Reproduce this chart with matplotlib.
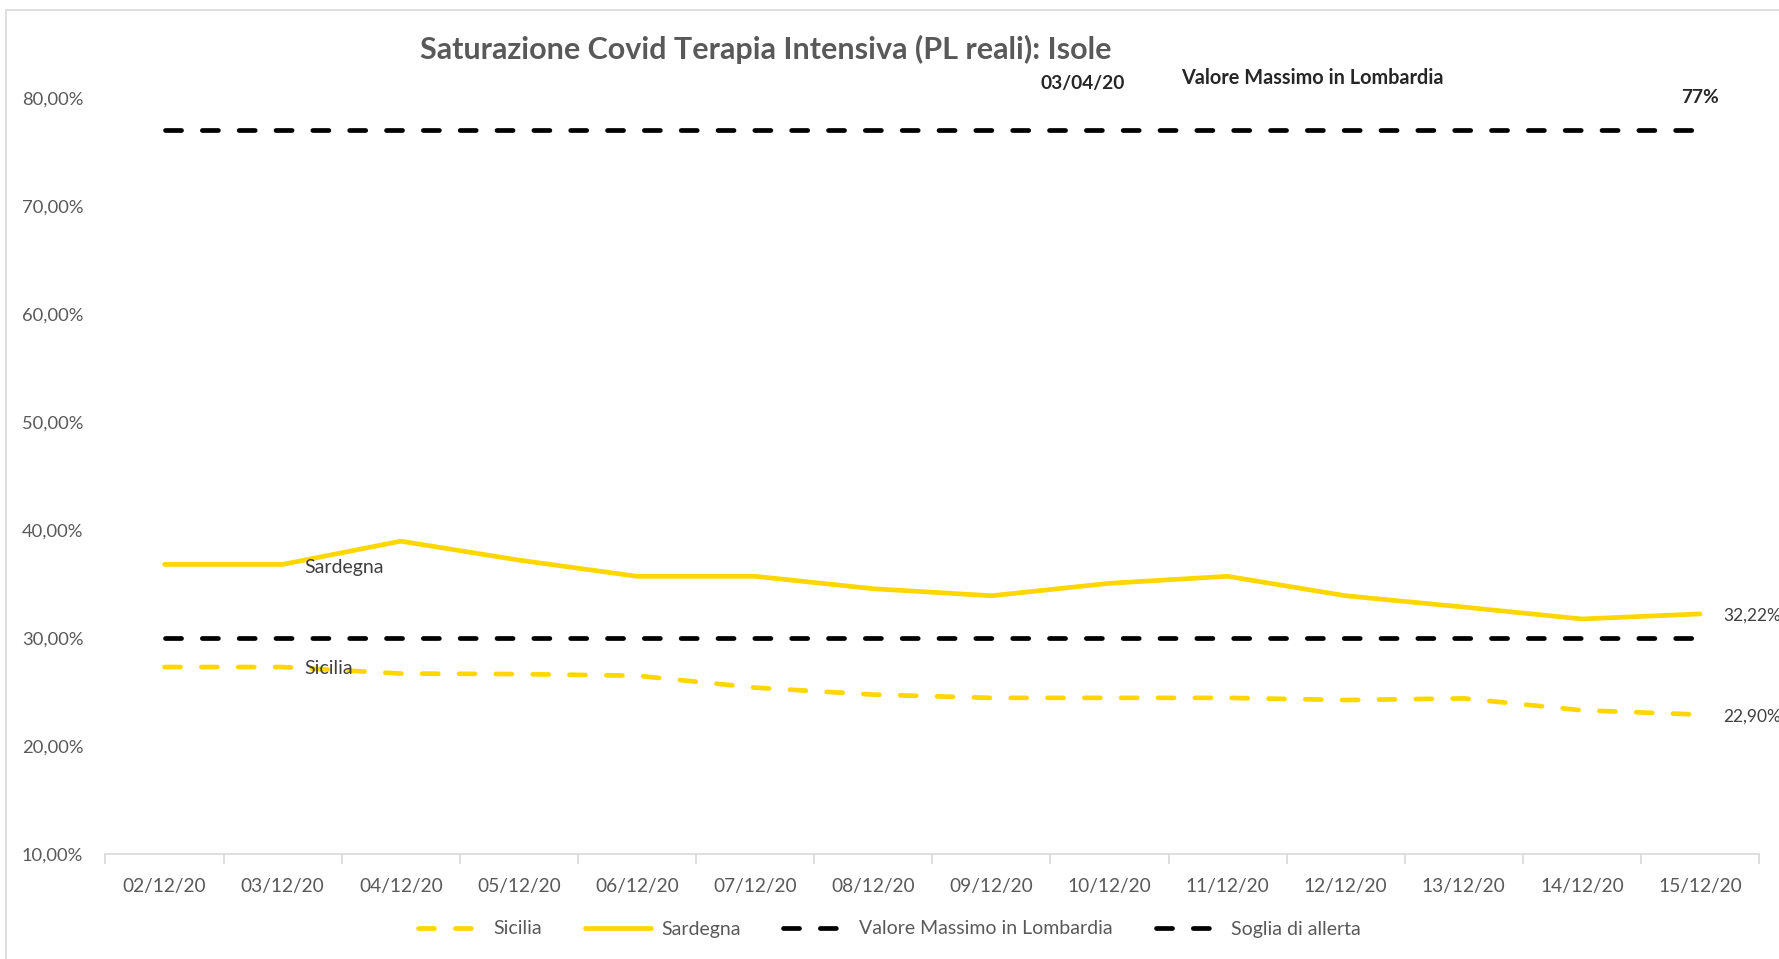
import matplotlib
matplotlib.use("Agg")
import matplotlib.pyplot as plt
import matplotlib.patches as mpatches

plt.rcParams["font.family"] = ["Lato", "DejaVu Sans"]

# ── Data ──
dates = ["02/12/20", "03/12/20", "04/12/20", "05/12/20", "06/12/20", "07/12/20",
         "08/12/20", "09/12/20", "10/12/20", "11/12/20", "12/12/20", "13/12/20",
         "14/12/20", "15/12/20"]
sicilia = [27.3, 27.3, 26.7, 26.65, 26.5, 25.4, 24.75, 24.45, 24.45, 24.45,
           24.25, 24.4, 23.3, 22.9]
sardegna = [36.8, 36.8, 38.95, 37.2, 35.7, 35.7, 34.55, 33.9, 35.05, 35.7,
            33.9, 32.85, 31.75, 32.22]
lombardia_max = [77.0] * len(dates)
soglia = [30.0] * len(dates)

YELLOW = "#FFD700"
GREY = "#595959"
DARK = "#404040"
AXIS_GREY = "#D9D9D9"

fig = plt.figure(figsize=(17.79, 9.59), dpi=100)
ax = fig.add_axes([0.0593, 0.1095, 0.9295, 0.7887])

x = list(range(len(dates)))
lw = 3.4
dash = (3.4, 4.4)

ax.plot(x, sicilia, color=YELLOW, lw=lw, dashes=dash, dash_capstyle="round",
        label="Sicilia")
ax.plot(x, sardegna, color=YELLOW, lw=lw, solid_capstyle="round", label="Sardegna")
ax.plot(x, lombardia_max, color="black", lw=lw, dashes=dash, dash_capstyle="round",
        label="Valore Massimo in Lombardia")
ax.plot(x, soglia, color="black", lw=lw, dashes=dash, dash_capstyle="round",
        label="Soglia di allerta")

# ── Axes ──
ax.set_xlim(-0.5, len(dates) - 0.5)
ax.set_ylim(10, 80)
ax.set_yticks(range(10, 81, 10))
ax.set_yticklabels([f"{v},00%" for v in range(10, 81, 10)], color=GREY, fontsize=13.2)
ax.set_xticks(x)
ax.set_xticklabels(dates, color=GREY, fontsize=13.8)
ax.set_xticks([i - 0.5 for i in range(len(dates) + 1)], minor=True)
ax.tick_params(axis="x", which="major", length=0, pad=17)
ax.tick_params(axis="x", which="minor", length=7, color=AXIS_GREY, width=1.2)
ax.tick_params(axis="y", length=0, pad=16)
for s in ["top", "right", "left"]:
    ax.spines[s].set_visible(False)
ax.spines["bottom"].set_color(AXIS_GREY)
ax.spines["bottom"].set_linewidth(1.2)

# ── Labels ──
ax.text(1.18, 36.5, "Sardegna", fontsize=14, color=DARK, va="center", ha="left")
ax.text(1.18, 27.2, "Sicilia", fontsize=14, color=DARK, va="center", ha="left")
ax.text(13.2, 32.1, "32,22%", fontsize=12.5, color=DARK, va="center", ha="left",
        clip_on=False)
ax.text(13.2, 22.7, "22,90%", fontsize=12.5, color=DARK, va="center", ha="left",
        clip_on=False)
ax.text(7.77, 81.35, "03/04/20", fontsize=13.8, fontweight="bold", color="#262626",
        ha="center", va="center", clip_on=False)
ax.text(9.72, 81.8, "Valore Massimo in Lombardia", fontsize=14.3, fontweight="bold",
        color="#262626", ha="center", va="center", clip_on=False)
ax.text(13.0, 80.0, "77%", fontsize=13.8, fontweight="bold", color="#262626",
        ha="center", va="center", clip_on=False)

fig.text(766 / 1779, 1 - 49 / 959, "Saturazione Covid Terapia Intensiva (PL reali): Isole",
         fontsize=22, fontweight="bold", color=GREY, ha="center", va="center")

# ── Legend ──
fig.legend(loc="center", bbox_to_anchor=(0.5, 1 - 929 / 959), ncol=4, frameon=False,
           fontsize=14, labelcolor=GREY, handlelength=3.4, columnspacing=2.2,
           handletextpad=0.5)

# ── Border ──
fig.patches.append(mpatches.Rectangle((6 / 1779, -0.01), 1.0, 1 - 10 / 959 + 0.01,
                                      transform=fig.transFigure, fill=False,
                                      edgecolor=AXIS_GREY, lw=1.2))

fig.savefig("out.png", dpi=100, facecolor="white")
